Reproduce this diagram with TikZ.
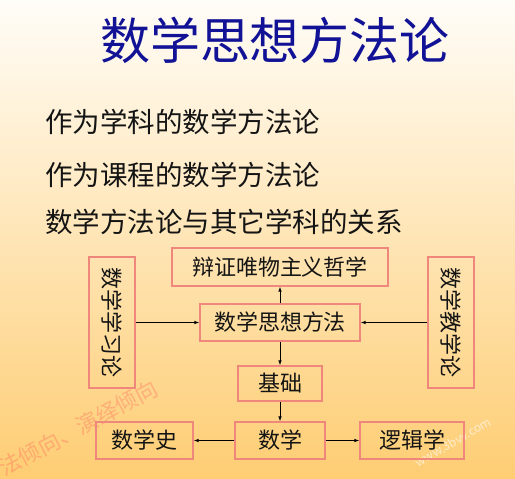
\documentclass[tikz,border=0pt]{standalone}
\usepackage{fontspec}
\newfontfamily\cjk{Noto Sans CJK SC}
\usetikzlibrary{arrows.meta}
\definecolor{titleblue}{RGB}{18,18,150}
\definecolor{boxred}{RGB}{240,135,125}
\definecolor{bgtop}{RGB}{255,253,248}
\definecolor{bgmid}{RGB}{253,231,192}
\definecolor{bgbot}{RGB}{254,205,115}
\definecolor{txt}{RGB}{20,20,20}
\begin{document}
\begin{tikzpicture}[x=1pt,y=-1pt,
  box/.style={draw=boxred,line width=1.2pt,inner sep=0pt,text=txt,font=\cjk\fontsize{22}{22}\selectfont},
  vtext/.style={rotate=-90,inner sep=0pt,text=txt,font=\cjk\fontsize{22}{22}\selectfont},
  line/.style={anchor=west,inner sep=0pt,text=txt,font=\cjk\fontsize{27.5}{27.5}\selectfont},
  arr/.style={-{Latex[length=5pt,width=3.5pt]},line width=0.8pt,draw=black}]
\useasboundingbox (0,0) rectangle (515,479);
\shade[top color=bgtop, middle color=bgmid, bottom color=bgbot] (0,0) rectangle (515,479);

\node[inner sep=0pt,text=titleblue,font=\cjk\fontsize{50}{50}\selectfont] (title) at (275,40) {数学思想方法论};

\node[line] (l1) at (45,122) {作为学科的数学方法论};
\node[line] (l2) at (45,175) {作为课程的数学方法论};
\node[line] (l3) at (45,222) {数学方法论与其它学科的关系};

\node[rotate=28,text=red!70!white,opacity=0.28,inner sep=0pt,font=\cjk\fontsize{22}{22}\selectfont] (wm1) at (78,428) {法倾向、演绎倾向};
\node[rotate=30,text=white,opacity=0.6,inner sep=0pt,font=\cjk\fontsize{12}{12}\selectfont] (wm2) at (453,442) {www.3bvv.com};

\node[box,minimum width=216pt,minimum height=38pt] (PH) at (280,267) {辩证唯物主义哲学};
\node[box,minimum width=160pt,minimum height=37pt] (MM) at (280,322.5) {数学思想方法};
\node[box,minimum width=84pt,minimum height=35pt] (JC) at (280,383.5) {基础};
\node[box,minimum width=90pt,minimum height=37pt] (SX) at (280,440.5) {数学};
\node[box,minimum width=97pt,minimum height=37pt] (SS) at (144.5,440.5) {数学史};
\node[box,minimum width=104pt,minimum height=37pt] (LJ) at (412,440.5) {逻辑学};
\node[box,minimum width=46pt,minimum height=131pt] (L) at (112,322.5) {};
\node[vtext] (Lt) at (L) {数学学习论};
\node[box,minimum width=46pt,minimum height=131pt] (R) at (451,322.5) {};
\node[vtext] (Rt) at (R) {数学教学论};

\draw[arr] (L) -- (MM);
\draw[arr] (R) -- (MM);
\draw[arr] (MM) -- (PH);
\draw[arr] (MM) -- (JC);
\draw[arr] (JC) -- (SX);
\draw[arr] (SX) -- (SS);
\draw[arr] (SX) -- (LJ);
\end{tikzpicture}
\end{document}
